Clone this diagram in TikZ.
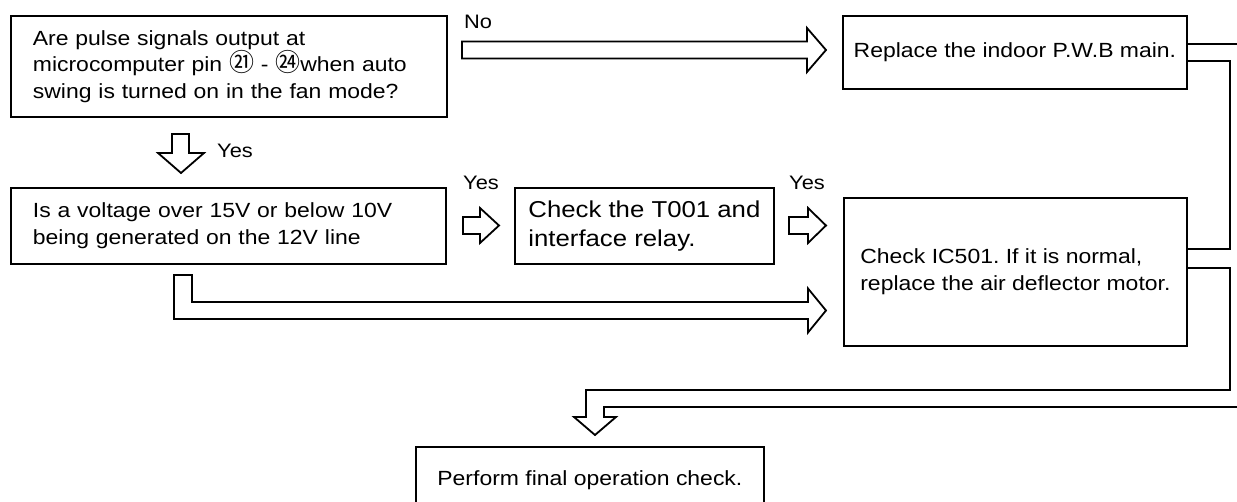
\documentclass[tikz,border=0pt]{standalone}
\usepackage{fontspec}
\setmainfont{Liberation Sans}[FakeStretch=1.12]
\newfontfamily\cjkfont{Noto Sans CJK JP}
\newcommand{\pinnum}[1]{{\cjkfont\fontsize{25}{26.5}\selectfont #1}}
\frenchspacing

\tikzset{
  stepbox/.style={draw, line width=1.8pt, anchor=north west, align=left,
    inner ysep=0pt, font=\fontsize{20.5}{26.5}\selectfont},
  blockarrow/.style={draw, fill=white, line width=1.8pt},
  answer/.style={font=\fontsize{19.5}{22}\selectfont, inner sep=0pt},
}

\begin{document}
\begin{tikzpicture}[x=1pt, y=-1pt]
  \useasboundingbox (0,0) rectangle (1237,502);
  % Question boxes
  \node[stepbox, minimum width=436pt, minimum height=101pt, text width=392pt, inner xsep=22pt]
    (pulse) at (10,15) {Are pulse signals output at\\
      microcomputer pin \pinnum{㉑} - \pinnum{㉔}when auto\\
      swing is turned on in the fan mode?};
  \node[stepbox, minimum width=435pt, minimum height=76pt, text width=391pt, inner xsep=22pt]
    (volt) at (10,187) {Is a voltage over 15V or below 10V\\being generated on the 12V line};
  % Action boxes
  \node[stepbox, minimum width=259pt, minimum height=76pt, font=\fontsize{23}{29}\selectfont]
    (relay) at (514,187) {Check the T001 and\\interface relay.};
  \node[stepbox, minimum width=344pt, minimum height=73pt]
    (pwb) at (842,15) {Replace the indoor P.W.B main.};
  \node[stepbox, minimum width=343pt, minimum height=148pt]
    (ic) at (843,197) {Check IC501. If it is normal,\\replace the air deflector motor.};
  \node[stepbox, minimum width=348pt, minimum height=66pt]
    (final) at (415,446) {Perform final operation check.};
  % No branch
  \draw[blockarrow] (462,41.5) -- (807,41.5) -- (807,28) -- (826,50) -- (807,72)
    -- (807,58.5) -- (462,58.5) -- cycle;
  \node[answer, anchor=west] (no) at (464,22) {No};
  % Yes down
  \draw[blockarrow] (172,134) -- (189,134) -- (189,153) -- (204,153) -- (181,173)
    -- (158,153) -- (172,153) -- cycle;
  \node[answer, anchor=west] (yesdown) at (217,151) {Yes};
  % Yes to relay check
  \draw[blockarrow] (463,217) -- (480,217) -- (480,208) -- (499,225.5) -- (480,243)
    -- (480,234) -- (463,234) -- cycle;
  \node[answer] (yesrelay) at (481,183) {Yes};
  % Yes to IC501
  \draw[blockarrow] (789,217) -- (808,217) -- (808,208) -- (826,225.5) -- (808,243)
    -- (808,234) -- (789,234) -- cycle;
  \node[answer] (yesic) at (807,183) {Yes};
  % No from voltage question
  \draw[blockarrow] (174,275) -- (192,275) -- (192,302) -- (808,302) -- (808,288.5)
    -- (826,310.5) -- (808,332.5) -- (808,319) -- (174,319) -- cycle;
  % Right return path to final check
  \draw[line width=1.8pt] (pwb.east |- 0,44) -- (1245,44) -- (1245,407) -- (604,407)
    -- (604,417) -- (616,417) -- (595,435) -- (574,417) -- (586,417) -- (586,390)
    -- (1230,390) -- (1230,268) -- (ic.east |- 0,268);
  \draw[line width=1.8pt] (pwb.east |- 0,61) -- (1230,61) -- (1230,249) -- (ic.east |- 0,249);
\end{tikzpicture}
\end{document}
